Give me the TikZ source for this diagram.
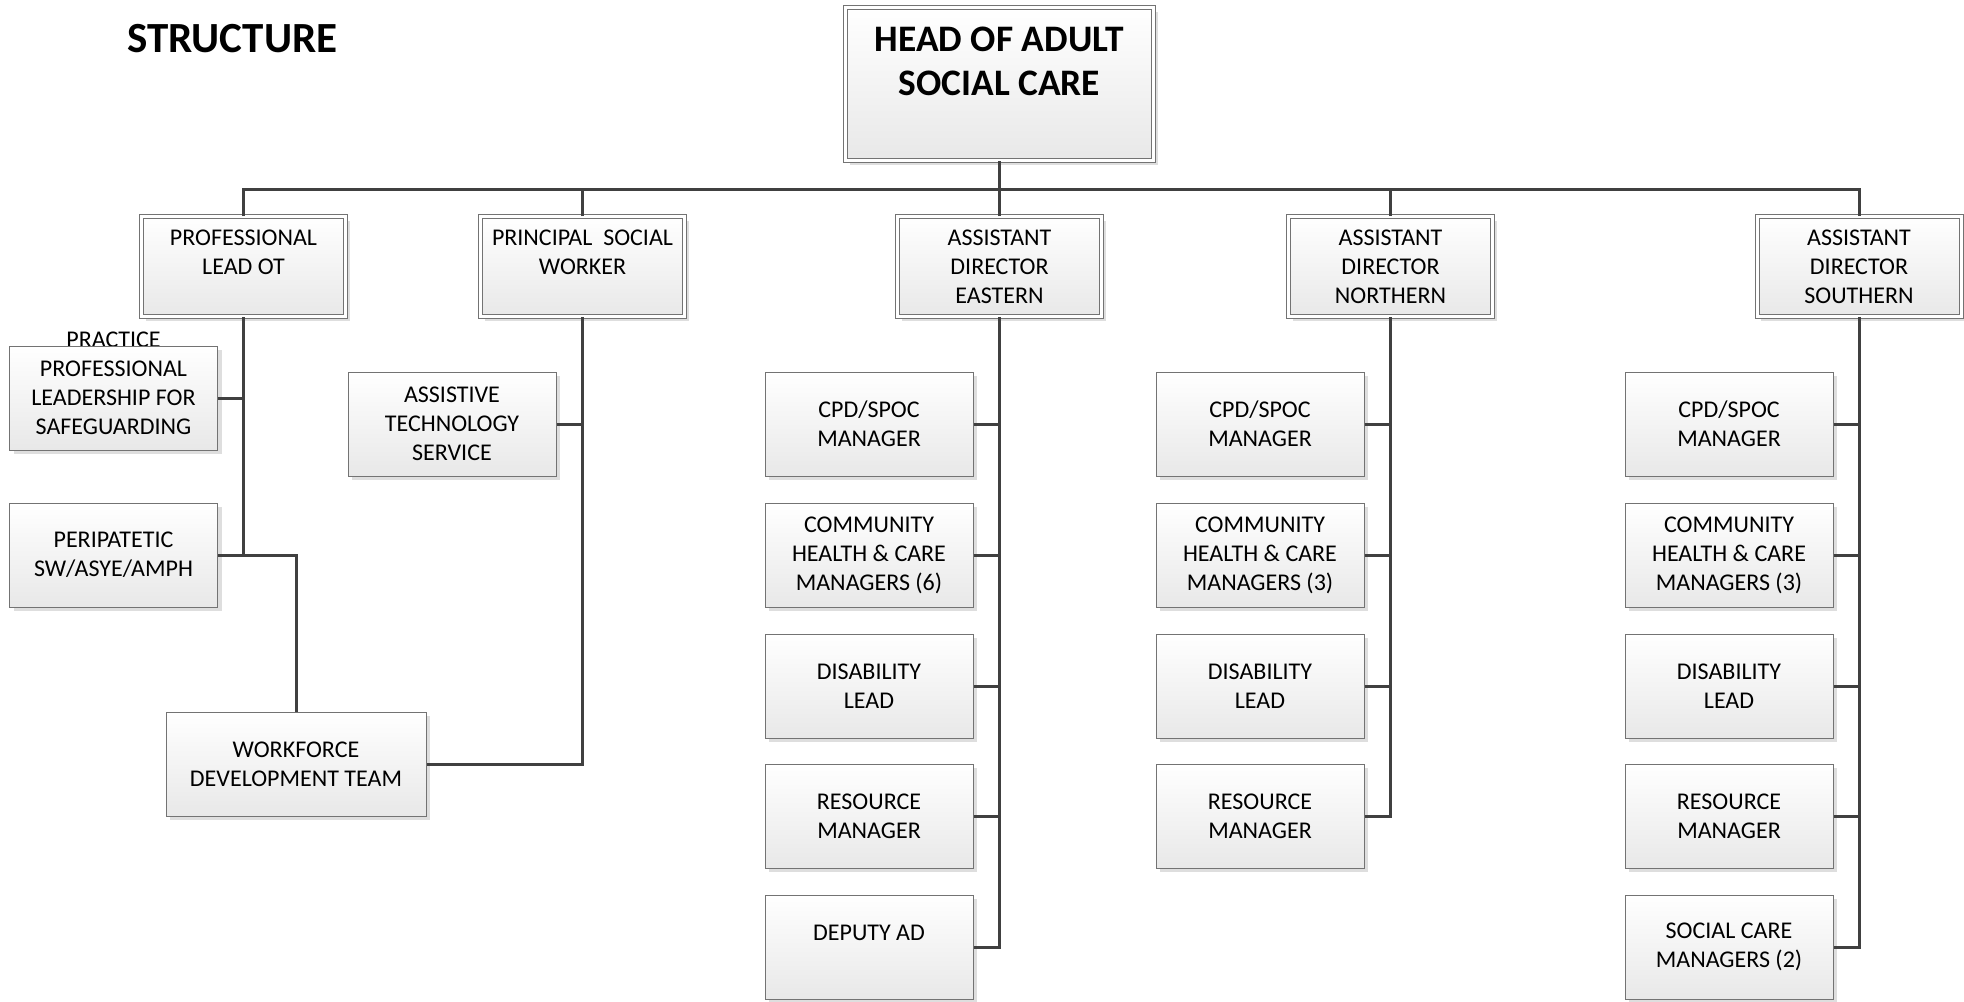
\documentclass[tikz,border=0pt]{standalone}
\usepackage{fontspec}
\setmainfont{Carlito}
\usetikzlibrary{shadows}
\begin{document}
\begin{tikzpicture}[x=0.5pt,y=-0.5pt,
  boxfont/.style={font=\fontsize{12}{14.5}\selectfont},
  basebox/.style={draw=black!55, line width=0.5pt, top color=white, bottom color=black!9,
    align=center, inner sep=0pt, boxfont,
    drop shadow={shadow xshift=2pt, shadow yshift=-2pt, fill=black!13, opacity=1}},
  subbox/.style={basebox, minimum width=104pt, minimum height=52pt},
  topbox/.style={basebox, double=white, double distance=1.5pt, minimum width=102pt, minimum height=50pt},
  conn/.style={draw=black!75, line width=1.5pt}
]
\useasboundingbox (0,0) rectangle (1964,1001);

% title
\node[anchor=base west, inner sep=0pt, font=\bfseries\fontsize{21.5}{25}\selectfont] (title) at (127,52) {STRUCTURE};

% head
\node[topbox, minimum width=154pt, minimum height=76.5pt] (head) at (999.5,84) {};
\node[inner sep=0pt, align=center, font=\bfseries\fontsize{18.7}{22}\selectfont] (headt) at (999.5,61) {HEAD OF ADULT\\SOCIAL CARE};

% top level
\node[topbox] (ot)  at (243.5,266.5) {PROFESSIONAL\\LEAD OT\\\mbox{}};
\node[topbox] (psw) at (582.5,266.5) {PRINCIPAL\ \ SOCIAL\\WORKER\\\mbox{}};
\node[topbox] (ade) at (999.5,266.5) {ASSISTANT\\DIRECTOR\\EASTERN};
\node[topbox] (adn) at (1390.5,266.5) {ASSISTANT\\DIRECTOR\\NORTHERN};
\node[topbox] (ads) at (1859,266.5) {ASSISTANT\\DIRECTOR\\SOUTHERN};

% left branch
\node[anchor=base, inner sep=0pt, boxfont] (pract) at (113.5,347) {PRACTICE};
\node[subbox] (prac) at (113.5,398) {PROFESSIONAL\\LEADERSHIP FOR\\SAFEGUARDING};
\node[subbox] (peri) at (113.5,555) {PERIPATETIC\\SW/ASYE/AMPH};
\node[subbox, minimum width=130pt] (wf) at (296,764) {WORKFORCE\\DEVELOPMENT TEAM};
\node[subbox] (ats) at (452,424) {ASSISTIVE\\TECHNOLOGY\\SERVICE};

% eastern
\node[subbox] (e1) at (869,424) {CPD/SPOC\\MANAGER};
\node[subbox] (e2) at (869,555) {COMMUNITY\\HEALTH \& CARE\\MANAGERS (6)};
\node[subbox] (e3) at (869,686) {DISABILITY\\LEAD};
\node[subbox] (e4) at (869,816) {RESOURCE\\MANAGER};
\node[subbox] (e5) at (869,947) {DEPUTY AD\\\mbox{}};

% northern
\node[subbox] (n1) at (1260,424) {CPD/SPOC\\MANAGER};
\node[subbox] (n2) at (1260,555) {COMMUNITY\\HEALTH \& CARE\\MANAGERS (3)};
\node[subbox] (n3) at (1260,686) {DISABILITY\\LEAD};
\node[subbox] (n4) at (1260,816) {RESOURCE\\MANAGER};

% southern
\node[subbox] (s1) at (1729,424) {CPD/SPOC\\MANAGER};
\node[subbox] (s2) at (1729,555) {COMMUNITY\\HEALTH \& CARE\\MANAGERS (3)};
\node[subbox] (s3) at (1729,686) {DISABILITY\\LEAD};
\node[subbox] (s4) at (1729,816) {RESOURCE\\MANAGER};
\node[subbox] (s5) at (1729,947) {SOCIAL CARE\\MANAGERS (2)};

% connectors
\coordinate (bus) at (0,189);
\draw[conn] (head.south) -- (head.south |- bus);
\draw[conn] (ot.north) -- (ot.north |- bus) -- (ads.north |- bus) -- (ads.north);
\draw[conn] (psw.north) -- (psw.north |- bus);
\draw[conn] (ade.north) -- (ade.north |- bus);
\draw[conn] (adn.north) -- (adn.north |- bus);

\draw[conn] (ot.south) -- (ot.south |- peri.east);
\draw[conn] (prac.east) -- (prac.east -| ot.south);
\draw[conn] (peri.east) -- (peri.east -| wf.north) -- (wf.north);

\draw[conn] (psw.south) -- (psw.south |- wf.east) -- (wf.east);
\draw[conn] (ats.east) -- (ats.east -| psw.south);

\draw[conn] (ade.south) -- (ade.south |- e5.east) -- (e5.east);
\foreach \b in {e1,e2,e3,e4} \draw[conn] (\b.east) -- (\b.east -| ade.south);

\draw[conn] (adn.south) -- (adn.south |- n4.east) -- (n4.east);
\foreach \b in {n1,n2,n3} \draw[conn] (\b.east) -- (\b.east -| adn.south);

\draw[conn] (ads.south) -- (ads.south |- s5.east) -- (s5.east);
\foreach \b in {s1,s2,s3,s4} \draw[conn] (\b.east) -- (\b.east -| ads.south);
\end{tikzpicture}
\end{document}
